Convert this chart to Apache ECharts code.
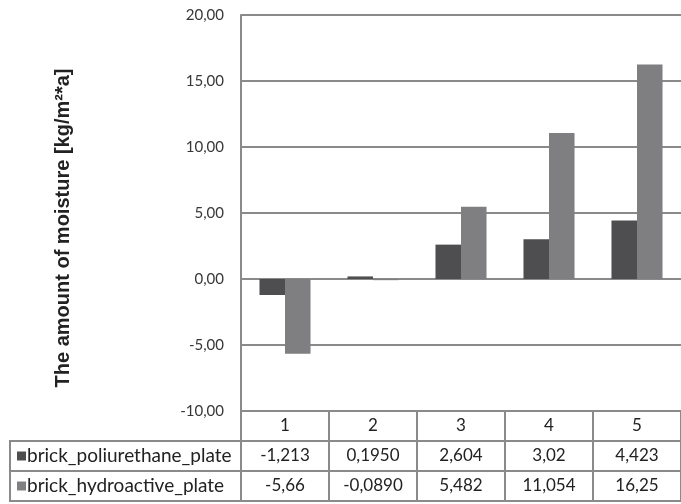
<!DOCTYPE html>
<html>
<head>
<meta charset="utf-8">
<script src="https://cdn.jsdelivr.net/npm/echarts@6/dist/echarts.min.js"></script>
<style>html,body{margin:0;padding:0;background:#fff;}#c{width:681px;height:504px;}</style>
</head>
<body>
<div id="c"></div>
<script>
const categories = ['1', '2', '3', '4', '5'];
const seriesNames = ['brick_poliurethane_plate', 'brick_hydroactive_plate'];
const poliurethane = [-1.213, 0.195, 2.604, 3.02, 4.423];
const hydroactive = [-5.66, -0.089, 5.482, 11.054, 16.25];
const poliurethaneText = ['-1,213', '0,1950', '2,604', '3,02', '4,423'];
const hydroactiveText = ['-5,66', '-0,0890', '5,482', '11,054', '16,25'];
const yTicks = [-10, -5, 0, 5, 10, 15, 20];
const axisTitle = 'The amount of moisture [kg/m\u00B2*a]';

const colors = ['#4e4e50', '#7f7f82'];
const lineColor = '#8a8a8a';
const chart = echarts.init(document.getElementById('c'));

const gridLeft = 241, gridTop = 15, gridBottom = 504 - 411, gridWidth = 448;
const rowH = 30;
const tableTop = 411;

function tableAxis(data, off, showLabel) {
  return {
    type: 'category', data: data, position: 'bottom', offset: off,
    axisLine: { show: true, onZero: false, lineStyle: { color: lineColor, width: 2 } },
    axisTick: { show: false },
    axisLabel: { show: showLabel, interval: 0, margin: 6, fontFamily: 'Lato', fontSize: 17, color: '#222' },
    splitLine: { show: false }
  };
}

const option = {
  animation: false,
  backgroundColor: '#fff',
  color: colors,
  grid: { left: gridLeft, top: gridTop, bottom: gridBottom, width: gridWidth, containLabel: false },
  xAxis: [
    {
      type: 'category', data: categories, position: 'bottom',
      axisLine: { show: true, onZero: false, lineStyle: { color: lineColor, width: 2 } },
      axisTick: { show: true, interval: 0, length: rowH * 3, lineStyle: { color: lineColor, width: 2 } },
      axisLabel: { interval: 0, margin: 6, fontFamily: 'Lato', fontSize: 17, color: '#222' },
      splitLine: { show: false }
    },
    tableAxis(poliurethaneText, rowH, true),
    tableAxis(hydroactiveText, rowH * 2, true),
    tableAxis(categories, rowH * 3, false)
  ],
  yAxis: {
    type: 'value', min: yTicks[0], max: yTicks[yTicks.length - 1], interval: 5,
    axisLine: { show: true, lineStyle: { color: lineColor, width: 2 } },
    axisTick: { show: false },
    axisLabel: { margin: 17, fontFamily: 'Lato', fontSize: 15, color: '#383838',
      formatter: v => v.toFixed(2).replace('.', ',') },
    splitLine: { show: true, lineStyle: { color: lineColor, width: 2 } }
  },
  series: [
    { name: seriesNames[0], type: 'bar', data: poliurethane, barGap: '0%', barCategoryGap: '42%', xAxisIndex: 0 },
    { name: seriesNames[1], type: 'bar', data: hydroactive, barGap: '0%', barCategoryGap: '42%', xAxisIndex: 0 }
  ],
  graphic: []
};

const g = [];
g.push({ type: 'rect', shape: { x: 10, y: tableTop + rowH, width: gridLeft - 10, height: rowH * 2 },
  style: { fill: 'none', stroke: lineColor, lineWidth: 2 }, z: 10 });
g.push({ type: 'line', shape: { x1: 10, y1: tableTop + rowH * 2, x2: gridLeft, y2: tableTop + rowH * 2 },
  style: { stroke: lineColor, lineWidth: 2 }, z: 10 });
seriesNames.forEach((n, i) => {
  const cy = tableTop + rowH * (i + 1) + rowH / 2;
  g.push({ type: 'rect', shape: { x: 17, y: cy - 4.5, width: 9, height: 9 }, style: { fill: colors[i] }, z: 11 });
  g.push({ type: 'text', x: 27, y: cy, style: { text: n, fontFamily: 'Lato', fontSize: 19, fill: '#222',
    verticalAlign: 'middle', align: 'left' }, z: 11 });
});
g.push({ type: 'text', x: 63, y: 228, rotation: Math.PI / 2,
  style: { text: axisTitle, fontFamily: 'Liberation Sans', fontWeight: 'bold', fontSize: 20, fill: '#222',
    align: 'center', verticalAlign: 'middle' } });
option.graphic = g;

chart.setOption(option);
</script>
</body>
</html>
